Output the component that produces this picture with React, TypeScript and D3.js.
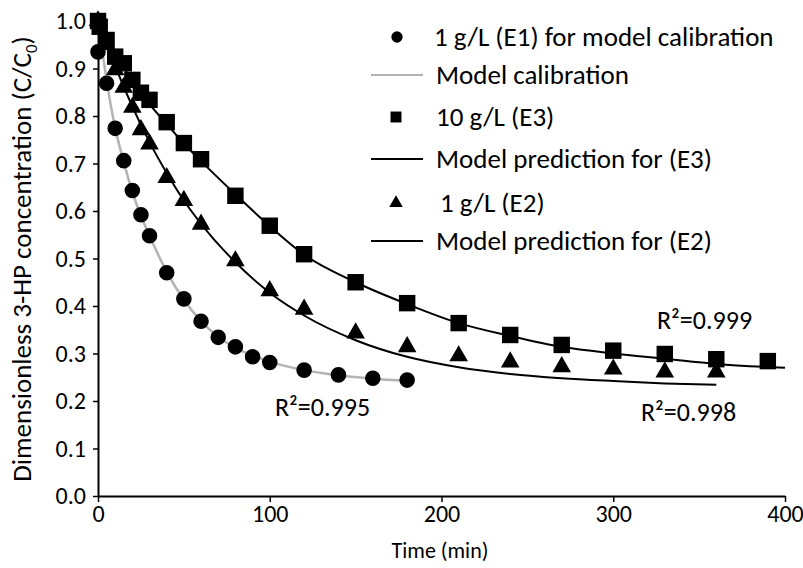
import { useEffect, useRef } from 'react';
import * as d3 from 'd3';

// experiment E1 (1 g/L, calibration)
const timeE1 = [0, 5, 10, 15, 20, 25, 30, 40, 50, 60, 70, 80, 90, 100, 120, 140, 160, 180];
const concE1 = [0.935, 0.869, 0.774, 0.706, 0.643, 0.592, 0.548, 0.47, 0.415, 0.368, 0.334, 0.314, 0.293, 0.281, 0.265, 0.255, 0.248, 0.244];

// experiment E3 (10 g/L)
const timeE3 = [0, 1, 5, 10, 15, 20, 25, 30, 40, 50, 60, 80, 100, 120, 150, 180, 210, 240, 270, 300, 330, 360, 390];
const concE3 = [1.0, 0.988, 0.96, 0.925, 0.911, 0.876, 0.849, 0.834, 0.787, 0.743, 0.709, 0.632, 0.569, 0.509, 0.45, 0.406, 0.364, 0.339, 0.318, 0.306, 0.299, 0.288, 0.284];

// experiment E2 (1 g/L)
const timeE2 = [0, 5, 10, 15, 20, 25, 30, 40, 50, 60, 80, 100, 120, 150, 180, 210, 240, 270, 300, 330, 360];
const concE2 = [1.0, 0.95, 0.897, 0.86, 0.818, 0.771, 0.741, 0.67, 0.622, 0.572, 0.495, 0.432, 0.393, 0.343, 0.314, 0.295, 0.282, 0.272, 0.267, 0.261, 0.261];

// model curves
const calibTime = [0, 2.5, 5, 10, 15, 20, 25, 30, 40, 50, 60, 70, 80, 90, 100, 120, 140, 160, 180];
const calibConc = [1.0, 0.936, 0.875, 0.775, 0.703, 0.64, 0.59, 0.548, 0.472, 0.413, 0.368, 0.335, 0.312, 0.296, 0.283, 0.265, 0.254, 0.247, 0.243];

const predE3Time = [0, 10, 20, 30, 40, 50, 60, 80, 100, 120, 150, 180, 210, 240, 270, 300, 330, 360, 400];
const predE3Conc = [1.0, 0.93, 0.875, 0.825, 0.783, 0.742, 0.705, 0.635, 0.568, 0.508, 0.45, 0.404, 0.364, 0.337, 0.314, 0.3, 0.289, 0.278, 0.27];

const predE2Time = [0, 10, 20, 30, 40, 50, 60, 80, 100, 120, 150, 180, 210, 240, 270, 300, 330, 360];
const predE2Conc = [1.0, 0.905, 0.82, 0.745, 0.68, 0.622, 0.573, 0.492, 0.428, 0.38, 0.328, 0.293, 0.271, 0.257, 0.248, 0.242, 0.237, 0.234];

const xTicks = [0, 100, 200, 300, 400];
const yTicks = [0, 0.1, 0.2, 0.3, 0.4, 0.5, 0.6, 0.7, 0.8, 0.9, 1.0];

const legendLabels = [
  '1 g/L (E1) for model calibration',
  'Model calibration',
  '10 g/L (E3)',
  'Model prediction for (E3)',
  '1 g/L (E2)',
  'Model prediction for (E2)',
];

const FONT = 'Carlito, Calibri, Lato, sans-serif';

const App = () => {
  const svgRef = useRef<SVGSVGElement>(null);

  useEffect(() => {
    const svg = d3.select(svgRef.current);
    svg.selectAll('*').remove();

    const x = d3.scaleLinear().domain([0, 400]).range([98, 785]);
    const y = d3.scaleLinear().domain([0, 1]).range([496, 21]);

    const zip = (t: number[], c: number[]) => t.map((v, i) => [v, c[i]] as [number, number]);

    const line = d3.line<[number, number]>()
      .x(d => x(d[0]))
      .y(d => y(d[1]))
      .curve(d3.curveMonotoneX);

    // model lines
    svg.append('path').attr('d', line(zip(calibTime, calibConc)))
      .attr('fill', 'none').attr('stroke', '#b3b3b3').attr('stroke-width', 2.5);
    svg.append('path').attr('d', line(zip(predE3Time, predE3Conc)))
      .attr('fill', 'none').attr('stroke', '#000').attr('stroke-width', 2);
    svg.append('path').attr('d', line(zip(predE2Time, predE2Conc)))
      .attr('fill', 'none').attr('stroke', '#000').attr('stroke-width', 2);

    const sym = (type: d3.SymbolType, size: number) => d3.symbol().type(type).size(size)();

    // markers
    svg.append('g').selectAll('path').data(zip(timeE1, concE1)).enter().append('path')
      .attr('d', sym(d3.symbolCircle, 190))
      .attr('transform', d => `translate(${x(d[0])},${y(d[1])})`)
      .attr('fill', '#000');
    svg.append('g').selectAll('path').data(zip(timeE3, concE3)).enter().append('path')
      .attr('d', sym(d3.symbolSquare, 270))
      .attr('transform', d => `translate(${x(d[0])},${y(d[1])})`)
      .attr('fill', '#000');
    svg.append('g').selectAll('path').data(zip(timeE2, concE2)).enter().append('path')
      .attr('d', sym(d3.symbolTriangle, 150))
      .attr('transform', d => `translate(${x(d[0])},${y(d[1])})`)
      .attr('fill', '#000');

    // axes
    const yAxis = svg.append('g').attr('transform', 'translate(98,0)')
      .call(d3.axisLeft(y).tickValues(yTicks).tickFormat(d3.format('.1f')).tickSize(5).tickSizeOuter(0).tickPadding(7));
    const xAxis = svg.append('g').attr('transform', 'translate(0,496)')
      .call(d3.axisBottom(x).tickValues(xTicks).tickFormat(d3.format('d')).tickSize(6).tickSizeOuter(0).tickPadding(3));
    [yAxis, xAxis].forEach(a => {
      a.select('.domain').attr('stroke', '#000').attr('stroke-width', 2);
      a.selectAll('.tick line').attr('stroke', '#000').attr('stroke-width', 1.5);
      a.selectAll('.tick text').attr('font-family', FONT).attr('font-size', 24).attr('fill', '#000');
    });

    // axis titles
    svg.append('text').attr('x', 440).attr('y', 558).attr('text-anchor', 'middle')
      .attr('font-family', FONT).attr('font-size', 22).text('Time (min)');
    const yl = svg.append('text').attr('transform', 'translate(31,259) rotate(-90)')
      .attr('text-anchor', 'middle').attr('font-family', FONT).attr('font-size', 27);
    yl.append('tspan').text('Dimensionless 3-HP concentration (C/C');
    yl.append('tspan').attr('font-size', 17).attr('dy', 6).text('0');
    yl.append('tspan').attr('dy', -6).text(')');

    // R² labels
    const r2 = [
      { x: 275, y: 416, t: 'R²=0.995' },
      { x: 641, y: 421, t: 'R²=0.998' },
      { x: 657, y: 329, t: 'R²=0.999' },
    ];
    svg.append('g').selectAll('text').data(r2).enter().append('text')
      .attr('x', d => d.x).attr('y', d => d.y)
      .attr('font-family', FONT).attr('font-size', 26).text(d => d.t);

    // legend
    const rowY = [37, 75, 117, 159, 203, 241];
    const textX = [434, 436, 436, 436, 440, 436];
    const lg = svg.append('g');
    lg.append('path').attr('d', sym(d3.symbolCircle, 100)).attr('transform', `translate(397,${rowY[0]})`);
    lg.append('line').attr('x1', 371).attr('x2', 423).attr('y1', rowY[1]).attr('y2', rowY[1])
      .attr('stroke', '#b3b3b3').attr('stroke-width', 2);
    lg.append('path').attr('d', sym(d3.symbolSquare, 120)).attr('transform', `translate(396,${rowY[2]})`);
    lg.append('line').attr('x1', 371).attr('x2', 423).attr('y1', rowY[3]).attr('y2', rowY[3])
      .attr('stroke', '#000').attr('stroke-width', 2);
    lg.append('path').attr('d', sym(d3.symbolTriangle, 80)).attr('transform', `translate(396,${rowY[4]})`);
    lg.append('line').attr('x1', 371).attr('x2', 423).attr('y1', rowY[5]).attr('y2', rowY[5])
      .attr('stroke', '#000').attr('stroke-width', 2);
    lg.selectAll('text.lab').data(legendLabels).enter().append('text')
      .attr('x', (_, i) => textX[i]).attr('y', (_, i) => rowY[i] + 9)
      .attr('font-family', FONT).attr('font-size', 27).text(d => d);
  }, []);

  return (
    <svg ref={svgRef} width={803} height={568}
      style={{ position: 'absolute', left: 0, top: 0, background: '#fff' }} />
  );
};

export default App;
